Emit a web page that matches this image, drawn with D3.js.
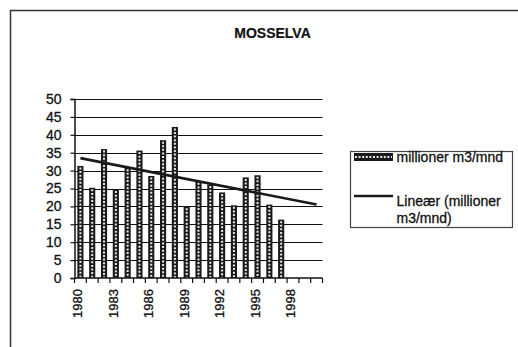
<!DOCTYPE html>
<html>
<head>
<meta charset="utf-8">
<script src="https://cdn.jsdelivr.net/npm/d3@7"></script>
<style>
  html, body { margin: 0; padding: 0; background: #fff; }
  svg { display: block; font-family: Arial, "Liberation Sans", sans-serif; }
  text { stroke: #111; stroke-width: 0.3px; }
</style>
</head>
<body>
<svg id="chart" width="518" height="347"></svg>
<script>
// Monthly discharge of Mosselva, million m3 per month, yearly averages
const years = [1980, 1981, 1982, 1983, 1984, 1985, 1986, 1987, 1988, 1989,
               1990, 1991, 1992, 1993, 1994, 1995, 1996, 1997, 1998, 1999, 2000];
const flow = [31.3, 25.2, 36.0, 24.7, 30.8, 35.6, 28.5, 38.5, 42.2, 19.9,
              27.0, 26.1, 23.9, 20.3, 28.1, 28.7, 20.5, 16.3];
const yTicks = [0, 5, 10, 15, 20, 25, 30, 35, 40, 45, 50];
const xTickLabels = [1980, 1983, 1986, 1989, 1992, 1995, 1998];
const seriesName = "millioner m3/mnd";
const trendName = ["Lineær (millioner", "m3/mnd)"];
const title = "MOSSELVA";

const svg = d3.select("#chart");

// frame lines (top and left edges of the chart area)
svg.append("path")
  .attr("d", "M10.5,347 V10.5 H518")
  .attr("fill", "none").attr("stroke", "#333").attr("stroke-width", 1.5);

const plot = { left: 74.5, right: 322.5, top: 99, bottom: 278 };

const x = d3.scaleBand().domain(years).range([plot.left, plot.right]).paddingInner(0.48).paddingOuter(0.24);
const y = d3.scaleLinear().domain([0, 50]).range([plot.bottom, plot.top]);

// title
svg.append("text")
  .attr("x", 272.5).attr("y", 38)
  .attr("text-anchor", "middle")
  .attr("font-size", 14).attr("font-weight", "bold")
  .attr("fill", "#111")
  .style("stroke-width", "0.2px")
  .text(title);

// horizontal gridlines
svg.append("g")
  .selectAll("line").data(yTicks.filter(t => t > 0)).join("line")
  .attr("x1", plot.left).attr("x2", plot.right)
  .attr("y1", d => Math.round(y(d)) + 0.5).attr("y2", d => Math.round(y(d)) + 0.5)
  .attr("stroke", "#111").attr("stroke-width", 1.2);

// y axis
const yAxis = svg.append("g")
  .attr("transform", `translate(${plot.left},0)`)
  .call(d3.axisLeft(y).tickValues(yTicks).tickSize(4).tickPadding(9));
yAxis.select(".domain").attr("stroke", "#111").attr("stroke-width", 1.5);
yAxis.selectAll(".tick line").attr("stroke", "#111").attr("stroke-width", 1.2);
yAxis.selectAll(".tick text")
  .attr("font-size", 14).attr("fill", "#111")
  .attr("font-family", "Arial, 'Liberation Sans', sans-serif");

// bars: dark columns with a chain of light squares down the middle
const bars = svg.append("g").selectAll("g").data(flow).join("g");
const bw = x.bandwidth();
bars.append("rect")
  .attr("x", (d, i) => x(years[i]))
  .attr("y", d => y(d))
  .attr("width", bw)
  .attr("height", d => y(0) - y(d))
  .attr("fill", "#1a1a1a");
bars.append("line")
  .attr("x1", (d, i) => x(years[i]) + bw / 2)
  .attr("x2", (d, i) => x(years[i]) + bw / 2)
  .attr("y1", d => y(d) + 1.5)
  .attr("y2", y(0))
  .attr("stroke", "#e8e8e8")
  .attr("stroke-width", 2)
  .attr("stroke-dasharray", "2,1.6");

// x axis: ticks at category boundaries
const xAxisG = svg.append("g");
xAxisG.append("line")
  .attr("x1", plot.left).attr("x2", plot.right)
  .attr("y1", plot.bottom).attr("y2", plot.bottom)
  .attr("stroke", "#111").attr("stroke-width", 1.5);
const step = x.step();
xAxisG.selectAll("line.tick").data(d3.range(years.length + 1)).join("line")
  .attr("class", "tick")
  .attr("x1", i => plot.left + i * step).attr("x2", i => plot.left + i * step)
  .attr("y1", plot.bottom).attr("y2", plot.bottom + 5)
  .attr("stroke", "#111").attr("stroke-width", 1.2);
xAxisG.selectAll("text").data(xTickLabels).join("text")
  .attr("transform", d => `translate(${x(d) + bw / 2 + 2},${plot.bottom + 11}) rotate(-90)`)
  .attr("text-anchor", "end")
  .attr("font-size", 13).attr("fill", "#111")
  .text(d => d);

// linear trend (least squares over the measured years), drawn across all categories
const n = flow.length;
const mx = d3.mean(d3.range(n));
const my = d3.mean(flow);
const sxy = d3.sum(flow, (v, i) => (i - mx) * (v - my));
const sxx = d3.sum(d3.range(n), i => (i - mx) ** 2);
const slope = sxy / sxx;
const intercept = my - slope * mx;
const trend = [0, years.length - 1].map(i => ({ i, v: intercept + slope * i }));
svg.append("path")
  .datum(trend)
  .attr("d", d3.line().x(d => x(years[d.i]) + bw / 2).y(d => y(d.v)))
  .attr("fill", "none").attr("stroke", "#1a1a1a").attr("stroke-width", 2.6);

// legend
const lg = svg.append("g");
lg.append("rect")
  .attr("x", 350.5).attr("y", 151.5).attr("width", 162).attr("height", 76)
  .attr("fill", "#fff").attr("stroke", "#444").attr("stroke-width", 1.2);
lg.append("rect")
  .attr("x", 354).attr("y", 153).attr("width", 39).attr("height", 8)
  .attr("fill", "#1a1a1a");
lg.append("line")
  .attr("x1", 355).attr("x2", 392).attr("y1", 157).attr("y2", 157)
  .attr("stroke", "#e8e8e8").attr("stroke-width", 2).attr("stroke-dasharray", "2,1.6");
lg.append("text")
  .attr("x", 396.5).attr("y", 162)
  .attr("font-size", 14).attr("fill", "#111")
  .text(seriesName);
lg.append("line")
  .attr("x1", 354).attr("x2", 393).attr("y1", 196).attr("y2", 196)
  .attr("stroke", "#1a1a1a").attr("stroke-width", 2.6);
lg.selectAll("text.tr").data(trendName).join("text")
  .attr("class", "tr")
  .attr("x", 396.5).attr("y", (d, i) => 205.5 + i * 17)
  .attr("font-size", 14).attr("fill", "#111")
  .text(d => d);
</script>
</body>
</html>
